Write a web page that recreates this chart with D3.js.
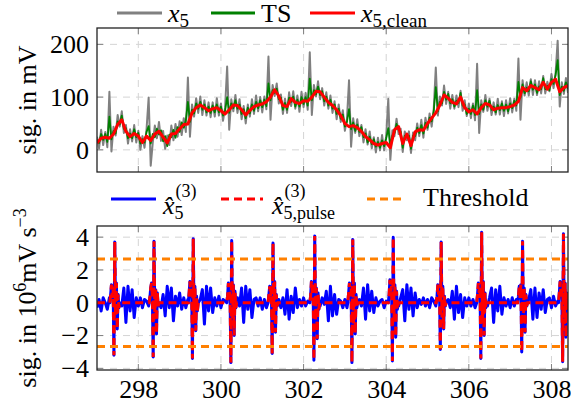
<!DOCTYPE html>
<html>
<head>
<meta charset="utf-8">
<script src="https://cdn.jsdelivr.net/npm/d3@7"></script>
<style>
body { margin: 0; background: #fff; }
svg, svg text { font-family: 'Liberation Serif', 'Times New Roman', serif; }
</style>
</head>
<body>
<div id="vis"></div>
<script>
// sampling grid (s)
var t0 = 297.0;
var dt = 0.05;
var dtClean = 0.1;

// top panel: x5 (raw), TS, x5,clean  (mV)
var x5 = [25,3,38,9,34,5,110,-3,44,27,
    66,44,73,32,47,12,39,16,47,14,
    36,0,26,4,40,99,-30,14,46,22,
    53,17,36,2,27,9,46,18,49,25,
    54,28,60,34,137,25,86,63,98,70,
    101,66,94,65,90,62,90,63,98,65,
    88,55,80,158,38,96,73,104,70,96,
    58,83,50,86,63,96,68,103,73,100,
    71,101,77,177,57,123,102,126,88,105,
    68,97,70,109,83,111,78,103,72,110,
    81,108,76,185,66,123,101,130,96,117,
    84,109,78,103,70,92,58,86,53,75,
    36,59,132,6,60,32,58,26,47,14,
    39,10,35,3,24,-5,23,-1,28,-1,
    26,97,-19,37,26,59,30,40,-4,35,
    18,35,-6,33,18,50,26,57,23,61,
    38,69,44,77,156,65,101,84,122,87,
    110,78,104,78,103,81,112,74,94,64,
    88,60,88,56,163,32,94,72,104,74,
    97,66,90,67,97,67,92,64,94,69,
    98,71,97,74,173,57,132,103,128,103,
    134,104,132,104,130,107,140,107,129,111,
    144,117,146,207,82,128,106,136,108];

var ts = [19,13,30,19,30,15,63,20,36,31,
    54,48,65,40,41,22,31,22,39,24,
    32,12,20,14,34,45,12,30,24,40,
    29,37,16,26,7,29,24,38,23,43,
    34,52,42,56,91,53,76,69,88,78,
    91,76,86,71,82,70,84,71,86,71,
    82,65,74,100,70,88,79,94,78,86,
    68,77,60,80,69,86,74,91,79,94,
    81,95,83,126,94,113,108,116,96,99,
    76,89,76,99,91,101,82,95,82,100,
    87,100,84,135,94,113,105,120,104,111,
    92,101,84,95,78,86,68,78,59,67,
    44,53,77,39,52,36,48,34,43,24,
    31,14,25,11,20,6,15,4,18,7,
    22,41,8,27,32,49,38,34,4,27,
    24,27,2,27,26,42,32,47,31,51,
    42,61,54,73,119,73,91,88,110,95,
    106,88,96,82,93,89,108,84,86,68,
    78,68,84,66,113,68,86,76,94,82,
    93,76,82,71,85,75,88,74,86,73,
    88,79,93,84,129,99,124,107,118,111,
    130,114,124,108,120,115,136,115,121,113,
    134,125,142,170,104,120,112,128,116];

var x5Clean = [13,22,24,22,30,48,57,35,25,31,
    26,14,26,18,30,35,24,13,30,31,
    40,48,49,70,80,85,80,74,78,80,
    74,68,76,85,84,76,66,75,82,85,
    87,91,100,114,102,84,82,97,90,88,
    93,92,100,111,110,100,90,84,76,65,
    50,44,46,42,35,25,19,12,9,12,
    14,4,38,44,12,30,8,34,38,37,
    50,60,70,85,104,98,90,87,100,80,
    72,76,68,80,88,85,76,79,80,80,
    82,85,92,118,112,122,118,114,128,115,
    128,134,110,118,122];

// bottom panel: third derivative (10^6 mV s^-3)
var derNoise = [-0.3,0.2,-0.5,0.3,0.0,-0.4,0.3,0.1,0,0,0,0,-0.2,0.9,-1.2,1.0,-0.5,0.8,-0.9,0.3,
    -0.2,0.3,-0.3,0.2,0.1,-0.2,0.3,0,0,0,0,-0.3,0.5,-0.8,1.0,-0.3,0.9,-1.1,0.4,-0.2,
    0.6,-0.4,0.3,-0.3,0.2,0.1,0,0,0,0,0.2,0.8,-1.3,1.0,-0.5,0.9,-0.6,0.3,-0.2,0.4,
    -0.3,0.2,0.1,-0.4,0.5,0,0,0,0.3,-0.2,0.9,-1.2,1.0,-0.4,0.8,-0.9,0.2,0.3,-0.2,0.3,
    -0.4,0.2,-0.3,0.3,0.1,-0.2,0,0,0.2,-0.3,0.3,-0.7,0.8,-1.0,0.4,-0.6,0.9,-0.3,0.2,-0.2,
    0.3,-0.2,0.1,-0.3,0.4,0.2,0,0,-0.2,0.3,-0.1,0.7,-1.1,1.0,-0.8,0.5,-0.7,0.2,0.1,-0.3,
    0.2,-0.3,0.3,0.1,0,0,0,0.2,-0.2,0.9,-1.0,1.1,-0.5,0.7,-0.6,0.3,-0.2,0.1,0.2,-0.3,
    0.1,0.3,0,0,0,0,-0.2,0.3,0.8,-1.1,1.1,-0.4,0.9,-0.8,0.6,-0.3,0.2,-0.1,0.3,-0.2,
    0.2,-0.3,0.3,0.1,-0.2,0,0,0,0,0,0.2,-0.3,0.7,-1.0,1.0,-0.6,0.5,-0.9,0.3,-0.2,
    0.3,-0.2,0.2,-0.3,0,0,0,0,0,-0.2,0.3,0.9,-1.2,0.8,-0.5,1.0,-0.7,0.3,-0.2,0.2,
    -0.3,0.3,-0.2,0.2,0,0,0,0,0,0.2,0.8,-1.0,0.9,-0.9,0.6,-0.4,0.8,-0.6,0.2,0.3,
    -0.3,0.4,-0.2,0.1,0,0,0,0,0];

var pulseTimes = [297.43, 298.38, 299.33, 300.26, 301.26, 302.27, 303.19, 304.17, 305.33, 306.31, 307.30, 308.29];
var pulseOffsets = [-0.12, -0.10, -0.08, -0.06, -0.04, -0.02, 0, 0.02, 0.04, 0.06, 0.08, 0.10, 0.12];
var pulses = [
    [0, 0.5, 1.1, 0.3, 0.9, -3.2, 3.7, -0.8, 1.2, -1.6, 0.5, -0.3, 0],
    [0, 0.3, 0.9, 1.2, 0.4, -3.3, 3.75, -1.0, 0.8, -1.9, 0.6, -0.2, 0],
    [0, 0.6, 1.3, 0.5, 1.0, -3.4, 3.9, -1.2, 1.0, -1.7, 0.4, -0.5, 0],
    [0, 0.4, 1.2, 0.8, 0.6, -3.65, 3.8, -1.4, 1.1, -2.0, 0.7, -0.3, 0],
    [0, 0.5, 1.0, 0.4, 0.8, -3.1, 3.65, -0.9, 1.3, -1.8, 0.5, -0.2, 0],
    [0, 0.4, 1.3, 0.6, 1.1, -3.5, 4.07, -1.1, 0.9, -2.2, 0.6, -0.4, 0],
    [0, 0.6, 1.2, 0.4, 0.9, -3.65, 3.85, -1.3, 1.2, -1.9, 0.5, -0.3, 0],
    [0, 0.5, 1.4, 0.7, 1.0, -3.55, 4.0, -1.0, 1.1, -2.1, 0.7, -0.4, 0],
    [0, 0.4, 1.1, 0.5, 0.8, -2.85, 3.7, -0.9, 1.0, -1.6, 0.4, -0.2, 0],
    [0, 0.5, 1.2, 0.6, 1.0, -3.4, 4.3, -1.2, 1.3, -2.0, 0.6, -0.3, 0],
    [0, 0.4, 1.0, 0.3, 1.1, -3.0, 3.75, -1.1, 0.9, -1.8, 0.5, -0.2, 0],
    [0, 0.6, 1.3, 0.5, 0.9, -3.6, 4.2, -1.3, 1.2, -2.1, 0.6, -0.4, 0]
];
var threshold = 2.67;

var xTicks = [298, 300, 302, 304, 306, 308];
var yTicksTop = [0, 100, 200];
var yTicksBottom = [-4, -2, 0, 2, 4];

var FONT = "'Liberation Serif', 'Times New Roman', serif";
var W = 571, H = 408;
var left = 97, right = 568;
var topPanel = {top: 28, bottom: 172};
var botPanel = {top: 226, bottom: 370};

var x = d3.scaleLinear().domain([297, 308.4]).range([left, right]);
var yTop = d3.scaleLinear().domain([-42, 231]).range([topPanel.bottom, topPanel.top]);
var yBot = d3.scaleLinear().domain([-4.1, 4.68]).range([botPanel.bottom, botPanel.top]);

var toPts = (arr, step) => arr.map((v, i) => [t0 + i * step, v]);

var windows = pulseTimes.map(c => [c + pulseOffsets[0], c + pulseOffsets[pulseOffsets.length - 1]]);
var inWin = t => windows.some(w => t >= w[0] - 1e-9 && t <= w[1] + 1e-9);
var pulsePts = [];
pulseTimes.forEach((c, i) => pulses[i].forEach((v, j) => pulsePts.push([c + pulseOffsets[j], v])));
var derPts = toPts(derNoise, dt).filter(p => !inWin(p[0])).concat(pulsePts)
    .sort((a, b) => a[0] - b[0]);
var pulseLine = [[297, 0]].concat(pulsePts).concat([[308.5, 0]]);

var svg = d3.select('#vis').append('svg')
    .attr('width', W)
    .attr('height', H)
    .attr('font-family', FONT);

function panel(p, y, yTicks, name, showX) {
    var g = svg.append('g');
    g.append('clipPath').attr('id', 'clip-' + name)
        .append('rect')
        .attr('x', left).attr('y', p.top)
        .attr('width', right - left).attr('height', p.bottom - p.top);

    // grid
    g.append('g').selectAll('line').data(xTicks).enter().append('line')
        .attr('x1', d => x(d)).attr('x2', d => x(d))
        .attr('y1', p.top).attr('y2', p.bottom)
        .attr('stroke', '#d4d4d4').attr('stroke-width', 1).attr('stroke-dasharray', '7,6');
    g.append('g').selectAll('line').data(yTicks).enter().append('line')
        .attr('x1', left).attr('x2', right)
        .attr('y1', d => y(d)).attr('y2', d => y(d))
        .attr('stroke', '#d4d4d4').attr('stroke-width', 1).attr('stroke-dasharray', '7,6');

    // ticks inside, all four sides
    var tk = g.append('g').attr('stroke', '#808080').attr('stroke-width', 1);
    xTicks.forEach(d => {
        tk.append('line').attr('x1', x(d)).attr('x2', x(d)).attr('y1', p.top).attr('y2', p.top + 6);
        tk.append('line').attr('x1', x(d)).attr('x2', x(d)).attr('y1', p.bottom).attr('y2', p.bottom - 6);
    });
    yTicks.forEach(d => {
        tk.append('line').attr('x1', left).attr('x2', left + 6).attr('y1', y(d)).attr('y2', y(d));
        tk.append('line').attr('x1', right).attr('x2', right - 6).attr('y1', y(d)).attr('y2', y(d));
    });

    var ay = g.append('g')
        .attr('transform', 'translate(' + left + ',0)')
        .call(d3.axisLeft(y).tickValues(yTicks).tickSize(0).tickPadding(8)
            .tickFormat(d => d < 0 ? '\u2212' + Math.abs(d) : d));
    ay.select('.domain').remove();
    ay.attr('font-family', FONT).attr('font-size', 26);

    if (showX) {
        var ax = g.append('g')
            .attr('transform', 'translate(0,' + p.bottom + ')')
            .call(d3.axisBottom(x).tickValues(xTicks).tickSize(0).tickPadding(10));
        ax.select('.domain').remove();
        ax.attr('font-family', FONT).attr('font-size', 26);
    }

    var plot = g.append('g').attr('clip-path', 'url(#clip-' + name + ')');
    g.append('rect')
        .attr('x', left).attr('y', p.top)
        .attr('width', right - left).attr('height', p.bottom - p.top)
        .attr('fill', 'none').attr('stroke', '#222').attr('stroke-width', 1.3);
    return plot;
}

var plotTop = panel(topPanel, yTop, yTicksTop, 'top', false);
var plotBot = panel(botPanel, yBot, yTicksBottom, 'bot', true);

var lineTop = d3.line().x(d => x(d[0])).y(d => yTop(d[1]));
var lineBot = d3.line().x(d => x(d[0])).y(d => yBot(d[1]));

plotTop.append('path').datum(toPts(x5, dt))
    .attr('d', lineTop).attr('fill', 'none')
    .attr('stroke', '#808080').attr('stroke-width', 2).attr('stroke-linejoin', 'round');
plotTop.append('path').datum(toPts(ts, dt))
    .attr('d', lineTop).attr('fill', 'none')
    .attr('stroke', '#008000').attr('stroke-width', 1.8).attr('stroke-linejoin', 'round');
plotTop.append('path').datum(toPts(x5Clean, dtClean))
    .attr('d', lineTop).attr('fill', 'none')
    .attr('stroke', '#ff0000').attr('stroke-width', 3).attr('stroke-linejoin', 'round');

plotBot.append('path').datum(derPts)
    .attr('d', lineBot).attr('fill', 'none')
    .attr('stroke', '#0000ff').attr('stroke-width', 3).attr('stroke-linejoin', 'round');
plotBot.append('path').datum(pulseLine)
    .attr('d', lineBot).attr('fill', 'none')
    .attr('stroke', '#ff0000').attr('stroke-width', 3).attr('stroke-dasharray', '8,5');
plotBot.selectAll('.thr').data([threshold, -threshold]).enter().append('line')
    .attr('x1', left).attr('x2', right)
    .attr('y1', d => yBot(d)).attr('y2', d => yBot(d))
    .attr('stroke', '#ff8000').attr('stroke-width', 3).attr('stroke-dasharray', '8,5');

// y titles
svg.append('text')
    .attr('transform', 'translate(36,' + (topPanel.top + topPanel.bottom) / 2 + ') rotate(-90)')
    .attr('text-anchor', 'middle').attr('font-size', 26).attr('font-family', FONT)
    .text('sig. in mV');
var yt = svg.append('text')
    .attr('transform', 'translate(36,' + (botPanel.top + botPanel.bottom) / 2 + ') rotate(-90)')
    .attr('text-anchor', 'middle').attr('font-size', 26).attr('font-family', FONT);
yt.append('tspan').text('sig. in 10');
yt.append('tspan').attr('font-size', 18).attr('dy', -10).text('6');
yt.append('tspan').attr('dy', 10).text('mV s');
yt.append('tspan').attr('font-size', 18).attr('dy', -10).text('\u22123');

// legends
var leg = svg.append('g').attr('font-family', FONT);
function key(x1, x2, y, color, dash) {
    leg.append('line').attr('x1', x1).attr('x2', x2).attr('y1', y).attr('y2', y)
        .attr('stroke', color).attr('stroke-width', 3).attr('stroke-dasharray', dash || null);
}
function subText(xp, y, main, sub) {
    var t = leg.append('text').attr('x', xp).attr('y', y).attr('font-size', 26);
    t.append('tspan').attr('font-style', 'italic').text(main);
    t.append('tspan').attr('font-size', 19).attr('dy', 5).text(sub);
}
function hatText(xp, y, sub) {
    var t = leg.append('text').attr('x', xp).attr('y', y).attr('font-size', 26)
        .attr('font-style', 'italic').text('x\u0302');
    var w = t.node().getComputedTextLength();
    leg.append('text').attr('x', xp + w + 1).attr('y', y - 17).attr('font-size', 18).text('(3)');
    leg.append('text').attr('x', xp + w).attr('y', y + 5).attr('font-size', 18).text(sub);
}

key(117, 162, 13, '#808080');
subText(168, 22, 'x', '5');
key(211, 255, 13, '#008000');
leg.append('text').attr('x', 261).attr('y', 22).attr('font-size', 26).text('TS');
key(310, 355, 13, '#ff0000');
subText(361, 22, 'x', '5,clean');

key(111, 156, 199, '#0000ff');
hatText(163, 214, '5');
key(221, 263, 199, '#ff0000', '8,5');
hatText(272, 214, '5,pulse');
key(367, 405, 199, '#ff8000', '8,5');
leg.append('text').attr('x', 423).attr('y', 206).attr('font-size', 26).text('Threshold');
</script>
</body>
</html>
